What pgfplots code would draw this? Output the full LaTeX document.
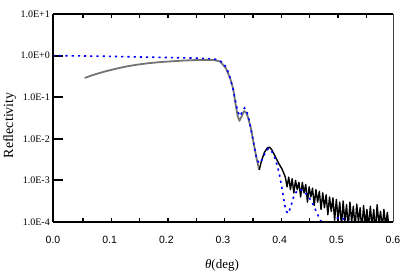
\documentclass[border=0pt]{standalone}
\usepackage{fontspec}
\setmainfont{Liberation Serif}
\newfontfamily\sansf{Liberation Sans}
\usepackage{pgfplots}
\pgfplotsset{compat=1.18}
\pgfplotstableread{
x y
0.056 0.29
0.070 0.34
0.090 0.41
0.110 0.48
0.130 0.55
0.150 0.61
0.170 0.66
0.190 0.70
0.210 0.73
0.230 0.76
0.250 0.78
0.270 0.79
0.285 0.78
0.295 0.72
0.305 0.50
0.312 0.30
0.318 0.16
0.322 0.07
0.326 0.035
0.329 0.027
0.333 0.035
0.337 0.046
0.341 0.043
0.345 0.030
0.350 0.016
0.355 0.0068
0.359 0.0035
0.362 0.0023
0.364 0.0018
}\measA
\pgfplotstableread{
x y
0.364 0.0018
0.368 0.0030
0.373 0.0047
0.378 0.0060
0.382 0.0063
0.386 0.0055
0.392 0.0038
0.398 0.0026
0.404 0.0019
0.410 0.0012
0.413 0.0007
0.416 0.0012
0.419 0.0006
0.422 0.0011
0.425 0.0005
0.428 0.0010
0.431 0.0006
0.434 0.0009
0.437 0.0004
0.440 0.0009
0.443 0.0005
0.446 0.0008
0.449 0.0003
0.452 0.0007
0.455 0.0004
0.458 0.00065
0.461 0.00025
0.464 0.0006
0.467 0.0003
0.470 0.00055
0.473 0.0002
0.476 0.0005
0.479 0.00022
0.482 0.00045
0.485 0.00015
0.488 0.0004
0.491 0.00018
0.494 0.00038
0.497 0.00011
0.500 0.00035
0.503 0.00012
0.506 0.0003
0.509 0.00008
0.512 0.00032
0.515 0.0001
0.518 0.00026
0.521 0.00007
0.524 0.0003
0.527 0.0001
0.530 0.00024
0.533 0.00007
0.536 0.00027
0.539 0.0001
0.542 0.00022
0.545 0.00006
0.548 0.00025
0.551 0.00009
0.554 0.0002
0.557 0.00007
0.560 0.00024
0.563 0.00008
0.566 0.0002
0.569 0.00006
0.572 0.00026
0.575 0.00009
0.578 0.00018
0.581 0.00007
0.584 0.0002
0.587 0.00008
0.590 0.00017
0.593 0.00007
}\measB
\pgfplotstableread{
x y
0.000 1.0
0.050 0.98
0.100 0.96
0.150 0.93
0.200 0.90
0.250 0.87
0.280 0.84
0.290 0.80
0.300 0.68
0.307 0.48
0.313 0.28
0.318 0.15
0.322 0.08
0.326 0.045
0.330 0.035
0.334 0.045
0.338 0.055
0.342 0.045
0.346 0.028
0.350 0.015
0.354 0.008
0.358 0.004
0.362 0.0028
0.366 0.0026
0.370 0.0034
0.375 0.0048
0.380 0.0058
0.384 0.0055
0.390 0.0040
0.396 0.0022
0.400 0.0013
0.405 0.00055
0.409 0.00025
0.412 0.00018
0.415 0.00016
0.419 0.00022
0.424 0.00038
0.430 0.00055
0.436 0.00060
0.442 0.00056
0.448 0.00045
0.454 0.00035
0.460 0.00025
0.466 0.00016
0.472 0.00011
0.478 0.000085
0.485 0.00007
0.492 0.00009
0.500 0.00012
0.506 0.00013
0.512 0.00012
0.520 0.000105
0.530 0.000092
0.540 0.00008
}\sim
\begin{document}
\begin{tikzpicture}
\begin{axis}[
 scale only axis, width=340pt, height=208pt,
 ymode=log, xmin=0, xmax=0.6, ymin=1e-4, ymax=10,
 axis line style={draw=none},
 /pgf/number format/assume math mode=true,
 xtick={0,0.1,0.2,0.3,0.4,0.5,0.6},
 xticklabels={0.0,0.1,0.2,0.3,0.4,0.5,0.6},
 minor xtick={0.053,0.103,0.153,0.203,0.253,0.303,0.353,0.403,0.453,0.503,0.553},
 every major x tick/.style={draw=none},
 xtick pos=both, xticklabel pos=lower,
 ytick pos=left,
 tick align=inside,
 minor tick length=4pt, major tick length=10pt,
 every minor x tick/.style={line width=1.5pt, black},
 every major y tick/.style={line width=2pt, black},
 ytick={1e-4,1e-3,1e-2,1e-1,1,10},
 yticklabels={1.0E-4,1.0E-3,1.0E-2,1.0E-1,1.0E+0,1.0E+1},
 yminorticks=false,
 xticklabel style={font=\sansf\fontsize{10.5}{12}\selectfont, anchor=center, yshift=-18pt},
 yticklabel style={font=\fontsize{10}{12}\selectfont, anchor=east, inner sep=0pt, xshift=-3pt},
 xlabel={\textit{θ}(deg)},
 ylabel={Reflectivity},
 xlabel style={font=\fontsize{13}{15}\selectfont, at={(axis description cs:0.497,-0.207)}, anchor=center},
 ylabel style={font=\fontsize{14}{16}\selectfont, at={(axis description cs:-0.127,0.465)}, anchor=center},
]
\addplot[black!55, line width=1.8pt, line join=round] table {\measA};
\addplot[black, line width=1.4pt, line join=round] table {\measB};
\addplot[blue, line width=1.6pt, dash pattern=on 2.2pt off 4pt] table {\sim};
\end{axis}
\draw[black, line width=2.5pt] (current axis.south west) -- (current axis.north west);
\draw[black, line width=2pt] (current axis.north west) -- (current axis.north east);
\draw[black, line width=1.5pt] (current axis.south west) -- (current axis.south east);
\draw[black!75, line width=0.8pt] (current axis.south east) -- (current axis.north east);
\pgfresetboundingbox
\path ([shift={(-53pt,-51pt)}]current axis.south west) rectangle ([shift={(10pt,14pt)}]current axis.north east);
\end{tikzpicture}
\end{document}
